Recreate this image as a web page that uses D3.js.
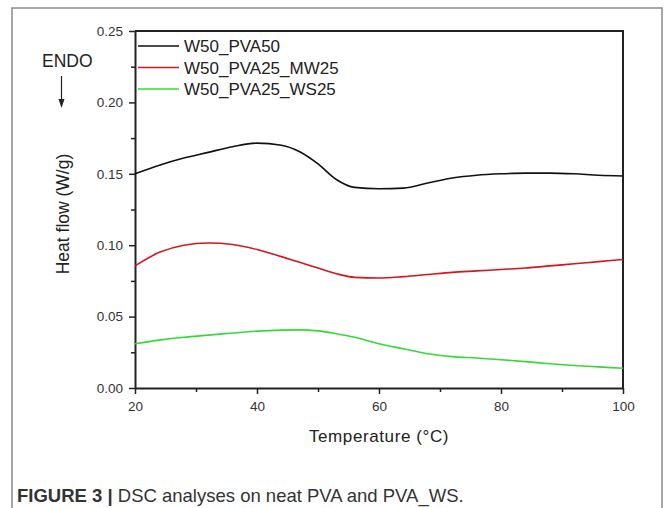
<!DOCTYPE html>
<html>
<head>
<meta charset="utf-8">
<script src="https://cdn.jsdelivr.net/npm/d3@7"></script>
<style>
  body { margin: 0; background: #fff; }
  svg { display: block; font-family: "Liberation Sans", Arial, sans-serif; }
</style>
</head>
<body>
<div id="chart"></div>
<script>
// temperatures (°C) and heat flow (W/g)
var temps = [20, 24, 28, 32, 36, 40, 44, 47, 50, 53, 56, 60, 64, 68, 72, 76, 80, 84, 88, 92, 96, 100];
var pva50 = [0.150, 0.156, 0.161, 0.165, 0.169, 0.1715, 0.170, 0.1655, 0.157, 0.146, 0.1405, 0.1395, 0.140, 0.1435, 0.147, 0.149, 0.150, 0.1505, 0.1505, 0.150, 0.149, 0.1485];
var mw25 = [0.0855, 0.095, 0.100, 0.1015, 0.1005, 0.097, 0.092, 0.088, 0.084, 0.080, 0.0775, 0.077, 0.078, 0.0795, 0.081, 0.082, 0.083, 0.084, 0.0855, 0.087, 0.0885, 0.090];
var ws25 = [0.031, 0.0335, 0.0355, 0.037, 0.0385, 0.0398, 0.0405, 0.0407, 0.040, 0.038, 0.0355, 0.031, 0.0275, 0.024, 0.022, 0.021, 0.0198, 0.0185, 0.017, 0.0158, 0.0148, 0.0138];
var seriesNames = ["W50_PVA50", "W50_PVA25_MW25", "W50_PVA25_WS25"];
var xTicks = [20, 40, 60, 80, 100];
var yTicks = [0.00, 0.05, 0.10, 0.15, 0.20, 0.25];

var W = 667, H = 508;
var margin = {top: 31, left: 135, right: 44, bottom: 120};
var width = W - margin.left - margin.right,
    height = H - margin.top - margin.bottom;

var color = d3.scaleOrdinal()
    .domain(seriesNames)
    .range(["#111111", "#d4161e", "#36da36"]);

var svg = d3.select("#chart").append("svg")
    .attr("width", W)
    .attr("height", H);

// outer frame of the figure
svg.append("rect")
    .attr("x", 12).attr("y", 8)
    .attr("width", 650).attr("height", 520)
    .attr("fill", "none")
    .attr("stroke", "#8a8a8a")
    .attr("stroke-width", 1.5);

var g = svg.append("g")
    .attr("transform", "translate(" + margin.left + "," + margin.top + ")");

var x = d3.scaleLinear().domain([20, 100]).range([0, width]);
var y = d3.scaleLinear().domain([0, 0.25]).range([height, 0]);

// minor ticks
g.append("g")
    .attr("transform", "translate(0," + height + ")")
    .call(d3.axisBottom(x).tickValues(d3.range(30, 100, 20)).tickSize(4).tickFormat(""))
    .call(function(a) { a.select(".domain").remove(); })
    .selectAll("line").attr("stroke", "#222").attr("stroke-width", 1.5);
g.append("g")
    .call(d3.axisLeft(y).tickValues([0.025, 0.075, 0.125, 0.175, 0.225]).tickSize(4).tickFormat(""))
    .call(function(a) { a.select(".domain").remove(); })
    .selectAll("line").attr("stroke", "#222").attr("stroke-width", 1.5);

// major axes
var xAxis = g.append("g")
    .attr("transform", "translate(0," + height + ")")
    .call(d3.axisBottom(x).tickValues(xTicks).tickSize(6).tickSizeOuter(0).tickPadding(7));
var yAxis = g.append("g")
    .call(d3.axisLeft(y).tickValues(yTicks).tickSize(6).tickSizeOuter(0).tickPadding(6)
      .tickFormat(d3.format(".2f")));

[xAxis, yAxis].forEach(function(a) {
  a.select(".domain").attr("stroke", "#222").attr("stroke-width", 2);
  a.selectAll(".tick line").attr("stroke", "#222").attr("stroke-width", 1.5);
  a.selectAll(".tick text").attr("fill", "#333").style("font-size", "13.5px")
    .style("font-family", "'Liberation Sans', Arial, sans-serif");
});

// top and right border of plot box
g.append("path")
    .attr("d", "M0,0H" + width + "V" + height)
    .attr("fill", "none")
    .attr("stroke", "#222")
    .attr("stroke-width", 2);

// curves
var data = [pva50, mw25, ws25];
var line = d3.line()
    .x(function(d, i) { return x(temps[i]); })
    .y(function(d) { return y(d); })
    .curve(d3.curveMonotoneX);

g.selectAll(".curve")
  .data(data)
  .enter().append("path")
    .attr("class", "curve")
    .attr("d", line)
    .attr("fill", "none")
    .attr("stroke", function(d, i) { return color(seriesNames[i]); })
    .attr("stroke-width", 1.6);

// legend
var legendG = g.selectAll(".legend")
  .data(seriesNames)
  .enter().append("g")
    .attr("class", "legend")
    .attr("transform", function(d, i) { return "translate(3," + (15 + i * 21.5) + ")"; });

legendG.append("line")
    .attr("x1", 0).attr("x2", 41)
    .attr("stroke", function(d) { return color(d); })
    .attr("stroke-width", 1.6);

legendG.append("text")
    .attr("x", 46).attr("y", 6)
    .attr("fill", "#222")
    .style("font-size", "17px")
    .text(function(d) { return d; });

// axis titles
svg.append("text")
    .attr("transform", "translate(63,214) rotate(-90)")
    .attr("text-anchor", "middle")
    .attr("dy", "0.35em")
    .attr("fill", "#222")
    .style("font-size", "17.5px")
    .text("Heat flow (W/g)");

svg.append("text")
    .attr("x", margin.left + width / 2)
    .attr("y", 442)
    .attr("text-anchor", "middle")
    .attr("fill", "#222")
    .style("font-size", "17px")
    .style("letter-spacing", "0.6px")
    .text("Temperature (°C)");

// ENDO marker
svg.append("text")
    .attr("x", 42).attr("y", 67)
    .attr("fill", "#222")
    .style("font-size", "17.5px")
    .text("ENDO");
svg.append("line")
    .attr("x1", 61.5).attr("x2", 61.5)
    .attr("y1", 76).attr("y2", 101)
    .attr("stroke", "#222").attr("stroke-width", 1.2);
svg.append("path")
    .attr("d", "M58.5,99 L64.5,99 L61.5,108 Z")
    .attr("fill", "#222");

// caption
var cap = svg.append("text")
    .attr("x", 17).attr("y", 502)
    .attr("fill", "#333")
    .style("font-size", "18.5px");
cap.append("tspan").style("font-weight", "bold").text("FIGURE 3 | ");
cap.append("tspan").text("DSC analyses on neat PVA and PVA_WS.");
</script>
</body>
</html>
